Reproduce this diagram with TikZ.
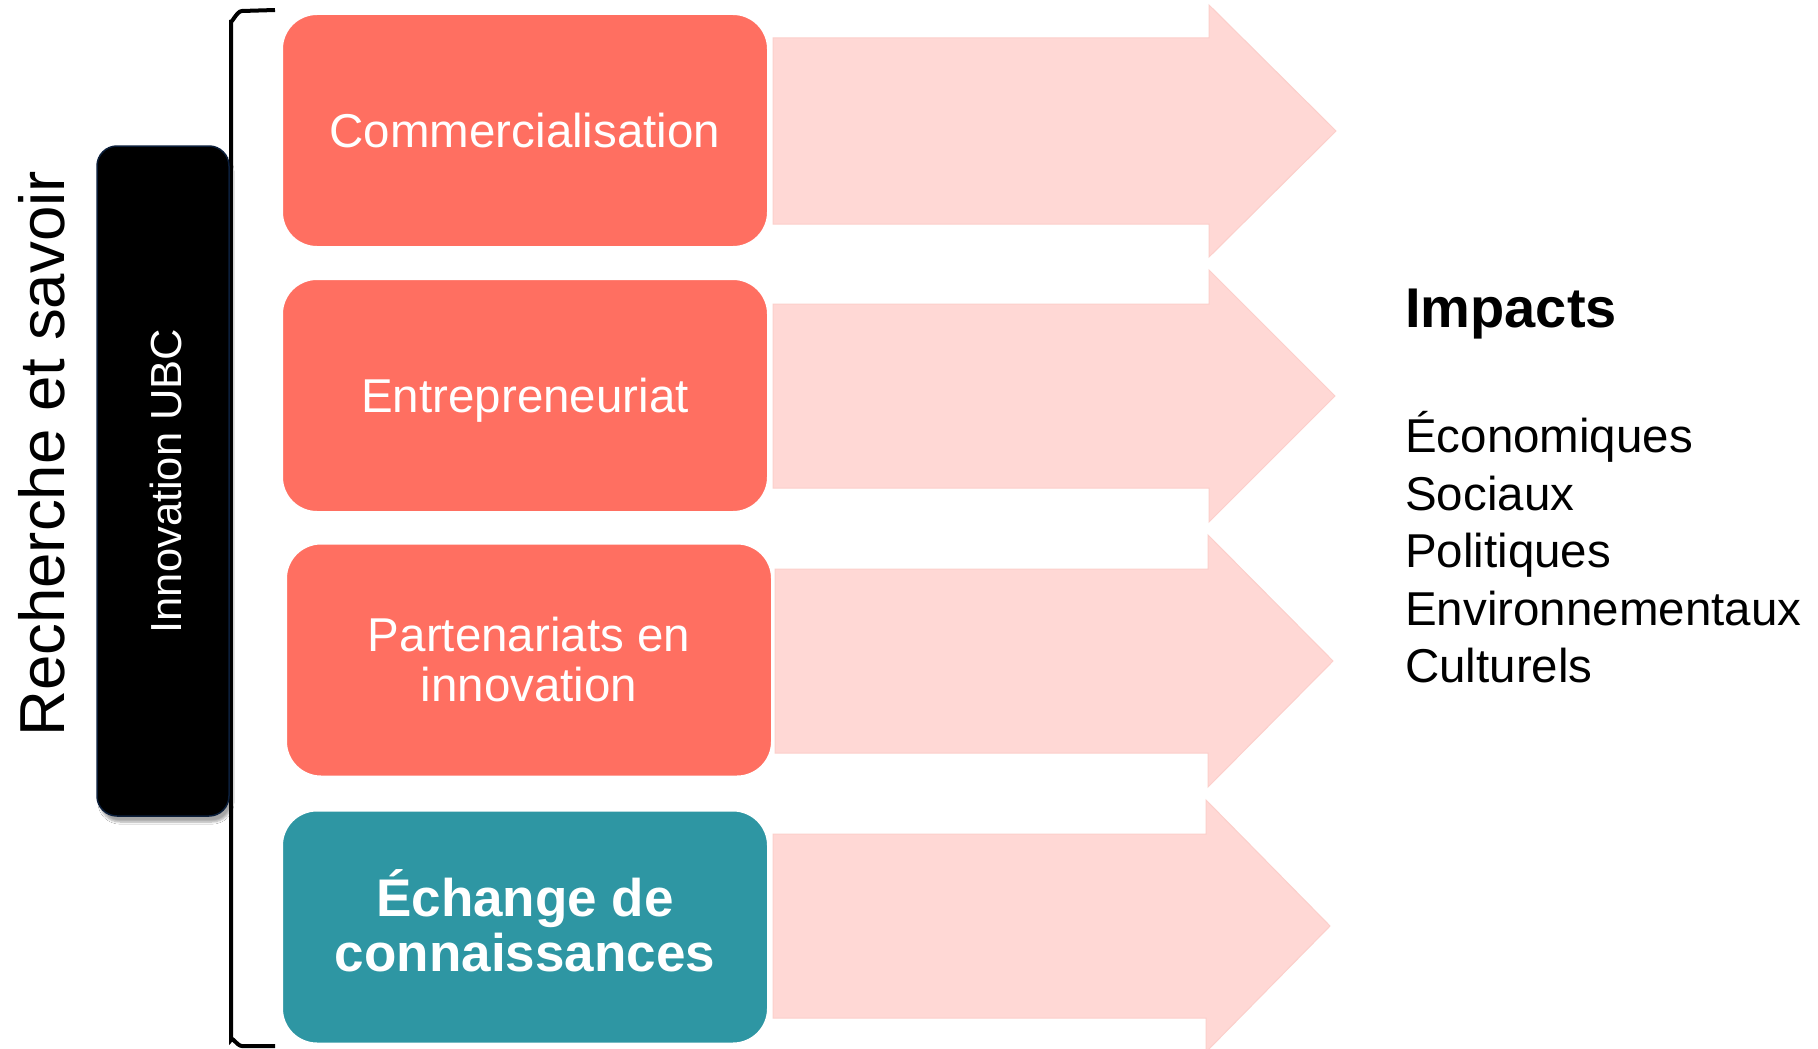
\documentclass[tikz,border=0pt]{standalone}
\usepackage{fontspec}
\setmainfont{Liberation Sans}
\usetikzlibrary{shadows.blur}
\definecolor{salmon}{HTML}{FF6F61}
\definecolor{tealbox}{HTML}{2E96A3}
\definecolor{pinkarrow}{HTML}{FFD8D5}
\definecolor{pinkedge}{HTML}{FCCFCB}
\definecolor{navyedge}{HTML}{0B1E3A}
\begin{document}
\begin{tikzpicture}[x=1pt,y=-1pt,
  box/.style={rounded corners=35pt, minimum width=486pt, minimum height=233pt,
    inner sep=0pt, text=white, align=center, draw=white, line width=2pt,
    font=\fontsize{47.5}{50}\selectfont},
  oneline/.style={text height=34pt, text depth=0pt},
  bigarrow/.style={fill=pinkarrow, draw=pinkedge, line width=1pt},
  listitem/.style={anchor=base west, inner sep=0pt, font=\fontsize{47.5}{57}\selectfont}]
\useasboundingbox (0,0) rectangle (1818,1049);
\fill[white] (0,0) rectangle (1818,1049);

% arrows
\path[bigarrow] (773,38) -- (1209,38) -- (1209,5) -- (1336,131) -- (1209,257) -- (1209,224) -- (773,224) -- cycle;
\path[bigarrow] (773,304) -- (1209,304) -- (1209,270) -- (1335,396) -- (1209,522) -- (1209,488) -- (773,488) -- cycle;
\path[bigarrow] (775,569) -- (1208,569) -- (1208,535) -- (1333,661) -- (1208,787) -- (1208,753) -- (775,753) -- cycle;
\path[bigarrow] (773,834) -- (1206,834) -- (1206,800) -- (1330,926) -- (1206,1052) -- (1206,1018) -- (773,1018) -- cycle;

% bracket
\draw[line width=4pt] (275,10) -- (242,11) to[out=180,in=-90] (231,20) -- (231,1040) to[out=90,in=180] (242,1046) -- (275,1046);

% black box
\node[rounded corners=20pt, minimum width=132pt, minimum height=670pt, fill=black,
  draw=navyedge, line width=1.5pt, inner sep=0pt,
  blur shadow={shadow xshift=3pt, shadow yshift=-6pt, shadow opacity=35, shadow blur steps=6}]
  (ubc) at (163,481) {};
\node[rotate=90, text=white, inner sep=0pt, font=\fontsize{43.5}{45}\selectfont] (ubctext) at (166,481) {Innovation UBC};

% left label
\node[rotate=90, anchor=base, inner sep=0pt, font=\fontsize{63.6}{65}\selectfont] (rech) at (64,454) {Recherche et savoir};

% boxes
\node[box, oneline, fill=salmon] (comm) at (525,130.5) {Commercialisation};
\node[box, oneline, fill=salmon] (entr) at (525,395.5) {Entrepreneuriat};
\node[box, fill=salmon] (part) at (529,660) {Partenariats en\\innovation};
\node[box, fill=tealbox, font=\bfseries\fontsize{53}{55}\selectfont] (echg) at (525,927) {Échange de\\connaissances\rule[-12pt]{0pt}{12pt}};

% impacts
\node[anchor=base west, inner sep=0pt, font=\bfseries\fontsize{56}{60}\selectfont] (imp) at (1405,327) {Impacts};
\node[listitem] (eco) at (1405,452) {Économiques};
\node[listitem] (soc) at (1405,510) {Sociaux};
\node[listitem] (pol) at (1405,567) {Politiques};
\node[listitem] (env) at (1405,625) {Environnementaux};
\node[listitem] (cul) at (1405,682) {Culturels};
\end{tikzpicture}
\end{document}
